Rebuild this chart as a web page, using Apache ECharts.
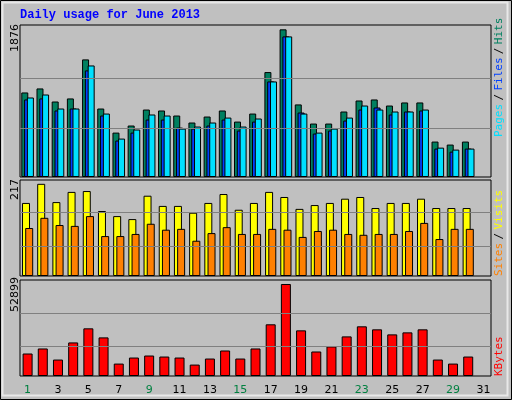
<!DOCTYPE html>
<html><head><meta charset="utf-8">
<script src="https://cdn.jsdelivr.net/npm/echarts@6/dist/echarts.min.js"></script>
<style>html,body{margin:0;padding:0;background:#c0c0c0}#c{width:512px;height:400px}</style>
</head><body><div id="c"></div>
<script>
const days = Array.from({length:31},(_,i)=>String(i+1));
const weekendDays = ['1','2','8','9','15','16','22','23','29','30'];
const hits  = [1074,1125,959,998,1494,870,564,654,857,845,781,692,768,845,704,806,1333,1876,922,679,679,832,972,985,908,947,947,450,412,450,null];
const files = [1010,1048,870,870,1417,806,488,603,794,781,615,641,692,755,641,743,1214,1786,806,564,615,755,908,857,832,832,857,373,348,361,null];
const pages = [985,998,845,870,1354,781,463,564,730,730,628,615,654,730,590,704,1214,1786,819,552,590,717,857,883,794,832,845,361,322,361,null];
const visits = [172,217,174,198,200,153,141,134,189,165,165,149,172,193,156,172,198,186,158,167,172,182,186,160,172,172,182,160,160,160,null];
const sites  = [113,137,120,118,141,94,94,99,123,109,111,83,101,115,99,99,111,109,92,106,109,99,97,99,99,106,125,87,111,111,null];
const kbytes = [12931,15826,9457,19300,27406,22195,7141,10615,11773,11194,10615,6562,10036,14668,10036,15826,29722,52899,26248,14089,16984,22774,28564,26827,23932,25090,26827,9457,7141,11194,null];
const maxLabels = ['1876','217','52899'];

const chart = echarts.init(document.getElementById('c'));
const grids = [
  {left:20,right:21,top:25,height:152},
  {left:20,right:21,top:180,height:96},
  {left:20,right:21,top:280,height:96}
].map(g=>Object.assign(g,{show:true,borderColor:'#000',borderWidth:1,backgroundColor:'#c0c0c0'}));
const xAxes = [0,1,2].map(i=>({type:'category',gridIndex:i,data:days,
  axisLine:{show:false},axisTick:{show:false},
  axisLabel:{show:i===2,margin:9,fontFamily:'DejaVu Sans',fontSize:11,
    color:(v)=>weekendDays.includes(v)?'#008040':'#000'}}));
const yMax=[1931,226,55198];
const yAxes = [0,1,2].map(i=>({type:'value',gridIndex:i,min:0,max:yMax[i],
  axisLine:{show:false},axisTick:{show:false},axisLabel:{show:false},splitLine:{show:false}}));
const ml = (vals)=>({silent:true,symbol:'none',label:{show:false},lineStyle:{color:'#808080',type:'solid',width:1},data:vals.map(v=>({yAxis:v}))});
const bs = {borderColor:'#000',borderWidth:1};
chart.setOption({
  backgroundColor:'#c0c0c0',animation:false,
  grid:grids,xAxis:xAxes,yAxis:yAxes,
  series:[
    {type:'bar',name:'Hits',xAxisIndex:0,yAxisIndex:0,data:hits,barWidth:7,barGap:'-60%',itemStyle:Object.assign({color:'#008060'},bs),markLine:ml([625,1251]),z:2},
    {type:'bar',name:'Pages',xAxisIndex:0,yAxisIndex:0,data:pages,barWidth:7,barGap:'-60%',itemStyle:Object.assign({color:'#0040ff'},bs),z:3},
    {type:'bar',name:'Files',xAxisIndex:0,yAxisIndex:0,data:files,barWidth:7,barGap:'-60%',itemStyle:Object.assign({color:'#00e0ff'},bs),z:4},
    {type:'bar',name:'Visits',xAxisIndex:1,yAxisIndex:1,data:visits,barWidth:8,barGap:'-60%',itemStyle:Object.assign({color:'#ffff00'},bs),markLine:ml([71,149]),z:2},
    {type:'bar',name:'Sites',xAxisIndex:1,yAxisIndex:1,data:sites,barWidth:8,barGap:'-60%',itemStyle:Object.assign({color:'#ff8000'},bs),z:3},
    {type:'bar',name:'KBytes',xAxisIndex:2,yAxisIndex:2,data:kbytes,barWidth:10,itemStyle:Object.assign({color:'#ff0000'},bs),markLine:ml([16984,36091]),z:2}
  ],
  graphic:[
    {type:'rect',shape:{x:0.5,y:0.5,width:511,height:399},style:{fill:'none',stroke:'#000',lineWidth:1},z:100},
    {type:'rect',shape:{x:2.5,y:2.5,width:505,height:393},style:{fill:'none',stroke:'#e8e8e8',lineWidth:2},z:100},
    {type:'text',left:20,top:9,style:{text:'Daily usage for June 2013',fill:'#0000ff',font:'bold 12px "Liberation Mono"'}},
    {type:'text',x:15,y:52,rotation:Math.PI/2,style:{text:maxLabels[0],fill:'#000',font:'11px "DejaVu Sans"',align:'left',verticalAlign:'middle'}},
    {type:'text',x:15,y:200,rotation:Math.PI/2,style:{text:maxLabels[1],fill:'#000',font:'11px "DejaVu Sans"',align:'left',verticalAlign:'middle'}},
    {type:'text',x:15,y:312,rotation:Math.PI/2,style:{text:maxLabels[2],fill:'#000',font:'11px "DejaVu Sans"',align:'left',verticalAlign:'middle'}},
    {type:'text',x:499,y:137,rotation:Math.PI/2,style:{text:'{p|Pages} {s|/} {f|Files} {s|/} {h|Hits}',align:'left',verticalAlign:'middle',
      rich:{p:{fill:'#00e0ff',font:'11px "DejaVu Sans Mono"'},s:{fill:'#000',font:'11px "DejaVu Sans Mono"'},f:{fill:'#0040ff',font:'11px "DejaVu Sans Mono"'},h:{fill:'#008060',font:'11px "DejaVu Sans Mono"'}}}},
    {type:'text',x:499,y:276,rotation:Math.PI/2,style:{text:'{a|Sites} {s|/} {b|Visits}',align:'left',verticalAlign:'middle',
      rich:{a:{fill:'#ff8000',font:'11px "DejaVu Sans Mono"'},s:{fill:'#000',font:'11px "DejaVu Sans Mono"'},b:{fill:'#ffff00',font:'11px "DejaVu Sans Mono"'}}}},
    {type:'text',x:499,y:376,rotation:Math.PI/2,style:{text:'KBytes',fill:'#ff0000',font:'11px "DejaVu Sans Mono"',align:'left',verticalAlign:'middle'}}
  ]
});
</script></body></html>
